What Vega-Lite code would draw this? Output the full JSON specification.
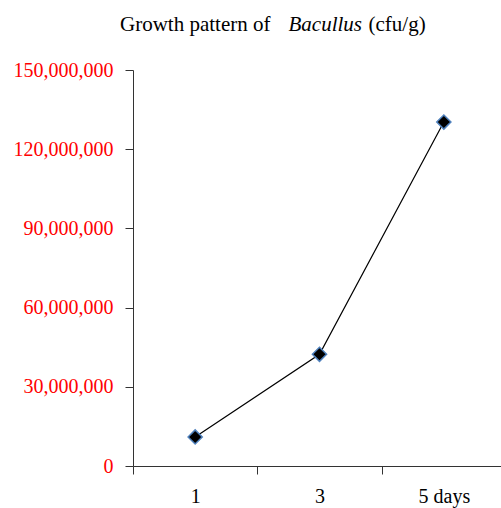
{
  "$schema": "https://vega.github.io/schema/vega-lite/v6.json",
  "autosize": "none",
  "padding": {"left": 133, "top": 70, "right": 0, "bottom": 42},
  "width": 373,
  "height": 396,
  "background": "white",
  "title": {
    "text": "Growth pattern of",
    "anchor": "start",
    "frame": "group",
    "orient": "top",
    "baseline": "alphabetic",
    "dx": -13,
    "dy": 39,
    "offset": 0,
    "font": "Liberation Serif",
    "fontSize": 21,
    "fontWeight": "normal",
    "color": "black"
  },
  "data": {
    "values": [
      {"day": "1", "cfu": 11000000},
      {"day": "3", "cfu": 42300000},
      {"day": "5 days", "cfu": 130300000}
    ]
  },
  "encoding": {
    "x": {
      "field": "day",
      "type": "nominal",
      "sort": null,
      "scale": {"type": "band", "paddingInner": 0, "paddingOuter": 0},
      "axis": {
        "title": "Bacullus",
        "titleFont": "Liberation Serif",
        "titleFontStyle": "italic",
        "titleFontWeight": "normal",
        "titleFontSize": 21,
        "titleColor": "black",
        "titleAlign": "left",
        "titleAnchor": "start",
        "titleBaseline": "alphabetic",
        "titleX": 155,
        "titleY": -436,
        "labelAngle": 0,
        "labelFont": "Liberation Serif",
        "labelFontSize": 20,
        "labelColor": "black",
        "labelPadding": 12,
        "tickBand": "extent",
        "tickSize": 8,
        "tickColor": "#333333",
        "domainColor": "#333333",
        "grid": false
      }
    },
    "y": {
      "field": "cfu",
      "type": "quantitative",
      "scale": {"domain": [0, 150000000], "nice": false},
      "axis": {
        "title": "(cfu/g)",
        "titleFont": "Liberation Serif",
        "titleFontWeight": "normal",
        "titleFontSize": 21,
        "titleColor": "black",
        "titleAngle": 0,
        "titleAlign": "left",
        "titleAnchor": "start",
        "titleBaseline": "alphabetic",
        "titleX": 235,
        "titleY": -40,
        "values": [0, 30000000, 60000000, 90000000, 120000000, 150000000],
        "format": ",d",
        "labelFont": "Liberation Serif",
        "labelFontSize": 20,
        "labelColor": "#ff0000",
        "labelPadding": 12,
        "tickSize": 8,
        "tickColor": "#333333",
        "domainColor": "#333333",
        "grid": false
      }
    }
  },
  "layer": [
    {"mark": {"type": "line", "color": "black", "strokeWidth": 1.2}},
    {"mark": {"type": "point", "shape": "diamond", "filled": true, "fill": "black", "stroke": "#4f81bd", "strokeWidth": 1.5, "size": 200, "opacity": 1}}
  ],
  "config": {"view": {"stroke": null}}
}
